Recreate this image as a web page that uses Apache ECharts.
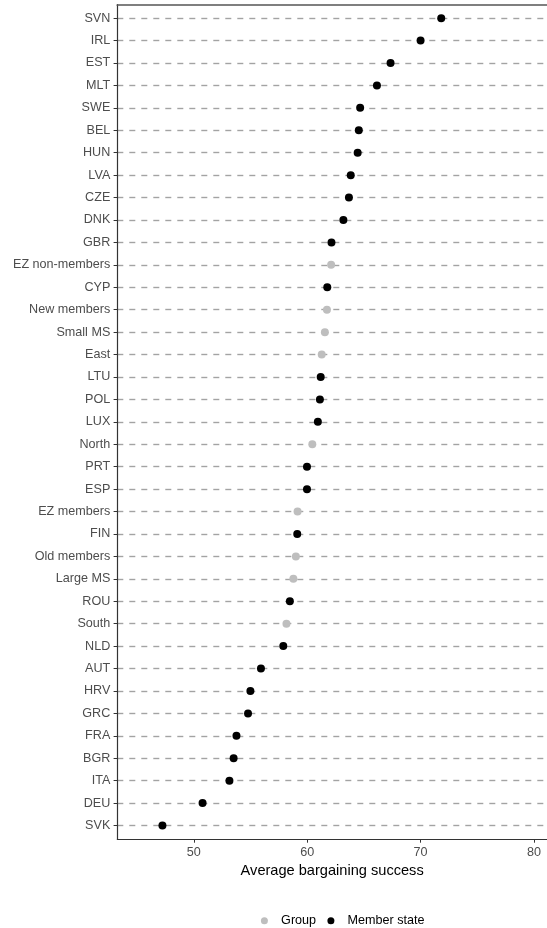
<!DOCTYPE html>
<html>
<head>
<meta charset="utf-8">
<script src="https://cdn.jsdelivr.net/npm/echarts@6/dist/echarts.min.js"></script>
<style>
html,body{margin:0;padding:0;background:#fff;}
#chart{width:547px;height:928px;}
</style>
</head>
<body>
<div id="chart"></div>
<script>
const categories = ["SVN","IRL","EST","MLT","SWE","BEL","HUN","LVA","CZE","DNK","GBR","EZ non-members","CYP","New members","Small MS","East","LTU","POL","LUX","North","PRT","ESP","EZ members","FIN","Old members","Large MS","ROU","South","NLD","AUT","HRV","GRC","FRA","BGR","ITA","DEU","SVK"];
const values = [71.82,70.0,67.35,66.15,64.67,64.55,64.45,63.84,63.68,63.19,62.14,62.11,61.77,61.74,61.56,61.28,61.19,61.12,60.94,60.45,59.98,59.98,59.15,59.12,59.0,58.78,58.47,58.17,57.89,55.92,54.99,54.78,53.76,53.51,53.14,50.77,47.23];
const types = ["M","M","M","M","M","M","M","M","M","M","M","G","M","G","G","G","M","M","M","G","M","M","G","M","G","G","M","G","M","M","M","M","M","M","M","M","M"];
const xTicks = [50,60,70,80];
const seriesNames = {G:"Group", M:"Member state"};

const idx = categories.map((c,i)=>i);
const groupData = [], memberData = [];
categories.forEach((c,i)=>{
  const pt = [values[i], i];
  if (types[i] === "G") groupData.push(pt); else memberData.push(pt);
});

const font = "'Liberation Sans', Arial, Helvetica, sans-serif";
const chart = echarts.init(document.getElementById('chart'), null, {renderer:'canvas'});
chart.setOption({
  animation:false,
  backgroundColor:'#ffffff',
  textStyle:{fontFamily:font},
  grid:{left:117.3, top:4.7, right:0, bottom:89, containLabel:false},
  xAxis:[{
    type:'value', min:43.25, max:81.15, position:'bottom',
    name:'Average bargaining success', nameLocation:'middle', nameGap:22,
    nameTextStyle:{color:'#000', fontSize:14.6, fontFamily:font},
    axisLine:{show:true, onZero:false, lineStyle:{color:'#333333', width:1.2}},
    axisTick:{show:true, length:3.7, customValues:xTicks, lineStyle:{color:'#333333', width:1}},
    axisLabel:{show:true, customValues:xTicks, margin:7, color:'#4d4d4d', fontSize:12.6, fontFamily:font},
    splitLine:{show:false}
  },{
    type:'value', min:43.25, max:81.15, position:'top',
    axisLine:{show:true, onZero:false, lineStyle:{color:'#555555', width:1.7}},
    axisTick:{show:false}, axisLabel:{show:false}, splitLine:{show:false}
  }],
  yAxis:{
    type:'value', min:-0.6, max:36.6, inverse:true,
    axisLine:{show:true, onZero:false, lineStyle:{color:'#333333', width:1.2}},
    axisTick:{show:true, length:3.7, customValues:idx, lineStyle:{color:'#333333', width:1}},
    axisLabel:{show:true, customValues:idx, margin:7, color:'#4d4d4d', fontSize:12.6, fontFamily:font,
      formatter:(v)=>categories[Math.round(v)]},
    splitLine:{show:true, lineStyle:{color:'#a3a3a3', width:1.4, type:[6,6]}}
  },
  legend:{
    show:true, orient:'horizontal', left:255.9, top:908.7,
    itemWidth:23.4, itemHeight:7, itemGap:11.3, icon:'circle',
    textStyle:{color:'#000', fontSize:12.6, fontFamily:font, lineHeight:14},
    data:[seriesNames.G, seriesNames.M]
  },
  series:[{
    name:seriesNames.G, type:'scatter', xAxisIndex:0, symbol:'circle', symbolSize:8,
    itemStyle:{color:'#bebebe', opacity:1}, data:groupData
  },{
    name:seriesNames.M, type:'scatter', xAxisIndex:0, symbol:'circle', symbolSize:8,
    itemStyle:{color:'#000000', opacity:1}, data:memberData
  }]
});
</script>
</body>
</html>
